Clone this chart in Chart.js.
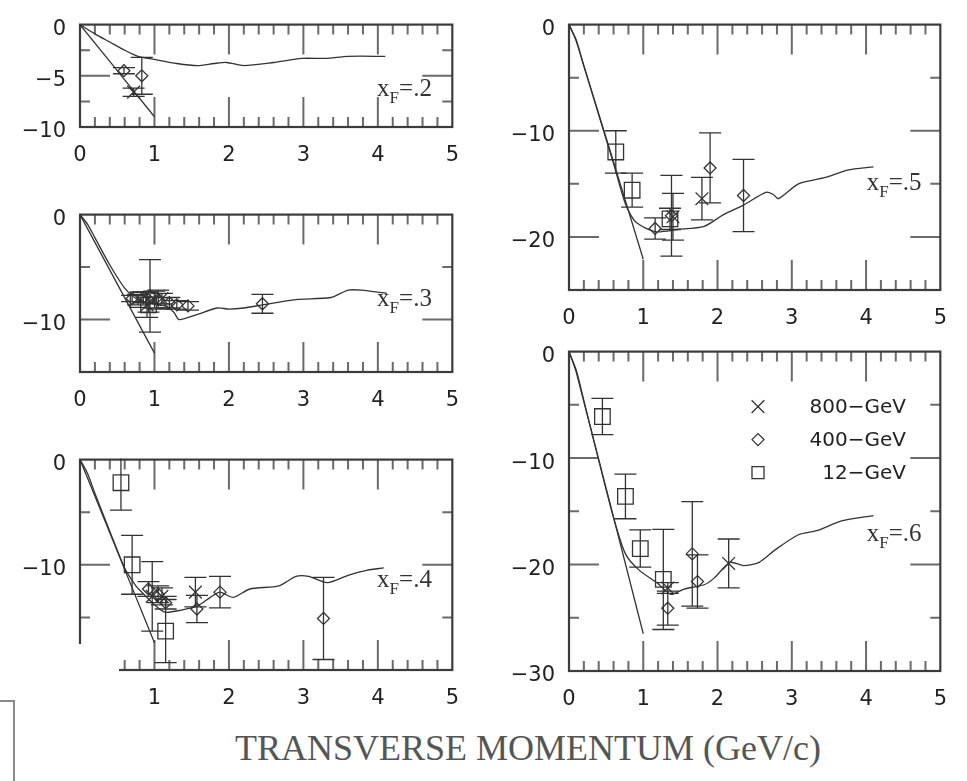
<!DOCTYPE html>
<html>
<head>
<meta charset="utf-8">
<script src="https://cdn.jsdelivr.net/npm/chart.js@4.4.1/dist/chart.umd.min.js"></script>
<style>
  html, body { margin: 0; padding: 0; background: #fff; width: 967px; height: 781px; overflow: hidden; }
  #page { position: relative; width: 967px; height: 781px; }
  #page canvas { position: absolute; }
  #xtitle { position: absolute; left: 228px; width: 600px; top: 727px; text-align: center;
            font: 36px "Liberation Serif", serif; color: #555; white-space: nowrap; }
  #blank { position: absolute; left: 0; top: 644px; width: 119px; height: 80px; background: #fff; z-index: 5; }
  #scrap { position: absolute; left: -4px; top: 700px; width: 15px; height: 100px; border: 2px solid #888; z-index: 6; }
</style>
</head>
<body>
<div id="page">
  <div id="xtitle">TRANSVERSE MOMENTUM (GeV/c)</div>
  <div id="blank"></div>
  <div id="scrap"></div>
</div>
<script>
// transverse momentum ticks, shared by all panels
const ptTicks = [0, 1, 2, 3, 4, 5];

// x_F = .2
const yTicks_02 = [0, -5, -10];
const lineA_02 = [[0, 0], [1, -9.0]];
const lineB_02 = [[0, 0], [0.2, -0.9], [0.4, -1.7], [0.6, -2.5], [0.78, -3.1], [1.0, -3.4], [1.3, -3.8],
  [1.58, -4.0], [1.8, -3.8], [1.97, -3.7], [2.2, -4.0], [2.6, -3.7], [2.98, -3.3], [3.3, -3.3], [3.6, -3.1], [4.1, -3.1]];
const gev800_02 = [[0.72, -6.6, 0.4]];           // [pT, value, error]
const gev400_02 = [[0.59, -4.5, 0.3], [0.83, -5.0, 1.8]];
const gev12_02 = [];

// x_F = .3
const yTicks_03 = [0, -10];
const lineA_03 = [[0, 0], [1, -13.2]];
const lineB_03 = [[0, 0], [0.1, -0.9], [0.2, -2.2], [0.4, -4.8], [0.6, -7.0], [0.75, -8.0], [0.9, -8.4],
  [1.14, -8.7], [1.26, -9.3], [1.33, -10.0], [1.58, -9.5], [1.84, -8.9], [2.0, -9.0], [2.2, -8.9], [2.45, -8.6],
  [2.9, -8.1], [3.37, -7.9], [3.6, -7.2], [3.78, -7.2], [4.12, -7.5]];
const gev800_03 = [[0.9, -8.6, 1.2], [1.0, -8.1, 0.8], [1.1, -8.0, 0.5]];
const gev400_03 = [[0.7, -8.0, 0.3], [0.85, -7.9, 0.5], [0.94, -7.75, 3.45], [1.05, -8.1, 0.9], [1.2, -8.4, 0.5],
  [1.3, -8.6, 0.4], [1.45, -8.7, 0.4], [2.45, -8.5, 0.9]];
const gev12_03 = [[0.78, -8.1, 0.5], [0.92, -8.6, 0.7]];

// x_F = .4
const yTicks_04 = [0, -10, -20];
const lineA_04 = [[0, 0], [1, -17.4]];
const lineB_04 = [[0, 0], [0.1, -1.3], [0.2, -3.2], [0.4, -6.8], [0.6, -10.3], [0.75, -12.0], [0.83, -12.6],
  [1.0, -13.8], [1.14, -14.5], [1.36, -14.3], [1.58, -13.9], [1.75, -13.1], [1.88, -12.6], [2.06, -13.1],
  [2.28, -12.3], [2.67, -12.0], [2.9, -11.1], [3.07, -11.1], [3.32, -11.7], [3.6, -11.0], [3.86, -10.5], [4.08, -10.3]];
const gev800_04 = [[0.97, -13.0, 3.3], [1.1, -13.0, 0.8], [1.55, -12.6, 1.4]];
const gev400_04 = [[0.92, -12.3, 0.7], [1.05, -12.8, 0.8], [1.15, -13.6, 0.6], [1.57, -14.2, 1.3],
  [1.88, -12.6, 1.5], [3.27, -15.1, 3.9]];
const gev12_04 = [[0.55, -2.2, 2.6], [0.7, -10.0, 2.8], [1.15, -16.3, 3.0]];

// x_F = .5
const yTicks_05 = [0, -10, -20];
const lineA_05 = [[0, 0], [0.1, -1.6], [1, -22.1]];
const lineB_05 = [[0, 0], [0.1, -1.5], [0.2, -3.9], [0.4, -8.5], [0.6, -13.1], [0.76, -16.9], [0.9, -18.6],
  [1.16, -19.5], [1.46, -19.3], [1.82, -19.0], [2.08, -17.9], [2.35, -17.0], [2.65, -15.8], [2.75, -16.0],
  [2.82, -16.4], [3.09, -15.0], [3.45, -14.4], [3.75, -13.7], [4.1, -13.4]];
const gev800_05 = [[1.4, -18.1, 2.2], [1.79, -16.4, 2.0]];
const gev400_05 = [[1.16, -19.2, 1.0], [1.38, -18.0, 3.8], [1.9, -13.5, 3.3], [2.35, -16.1, 3.4]];
const gev12_05 = [[0.63, -12.0, 2.0], [0.85, -15.6, 1.6], [1.36, -18.3, 1.0]];

// x_F = .6
const yTicks_06 = [0, -10, -20, -30];
const lineA_06 = [[0, 0], [0.1, -2.0], [1, -26.5]];
const lineB_06 = [[0, 0], [0.1, -1.8], [0.2, -4.6], [0.4, -10.2], [0.6, -15.6], [0.76, -19.0], [0.94, -20.5],
  [1.2, -21.8], [1.37, -22.8], [1.55, -22.3], [1.82, -21.9], [1.95, -21.3], [2.17, -19.8], [2.35, -20.1],
  [2.56, -19.8], [2.78, -18.6], [3.09, -17.2], [3.35, -16.8], [3.67, -15.9], [4.1, -15.4]];
const gev800_06 = [[1.33, -22.2, 0.5], [2.15, -19.9, 2.3]];
const gev400_06 = [[1.33, -24.1, 1.6], [1.66, -19.0, 4.9], [1.73, -21.6, 2.5]];
const gev12_06 = [[0.45, -6.1, 1.7], [0.76, -13.6, 2.1], [0.96, -18.5, 1.75], [1.27, -21.4, 4.7]];

const seriesNames = ['800\u2212GeV', '400\u2212GeV', '12\u2212GeV'];

const ink = '#333';
const tickInk = '#6a6a6a';
const labelFont = { family: '"DejaVu Sans", sans-serif', size: 21 };

// inward ticks on all four sides, plus the frame
const insideTicks = {
  id: 'insideTicks',
  beforeDatasetsDraw(chart, args, opts) {
    const { ctx, chartArea: a, scales: { x, y } } = chart;
    ctx.save();
    ctx.strokeStyle = tickInk;
    ctx.lineWidth = 2;
    ctx.beginPath();
    for (let i = 1; i < 25; i++) {
      const px = x.getPixelForValue(i * 0.2);
      const len = i % 5 === 0 ? 30 : 10;
      ctx.moveTo(px, a.top); ctx.lineTo(px, a.top + len);
      ctx.moveTo(px, a.bottom); ctx.lineTo(px, a.bottom - len);
    }
    for (let v = -opts.minor; v > y.min + 1e-6; v -= opts.minor) {
      const py = y.getPixelForValue(v);
      const q = v / opts.major;
      const len = Math.abs(q - Math.round(q)) < 1e-6 ? 30 : 10;
      ctx.moveTo(a.left, py); ctx.lineTo(a.left + len, py);
      ctx.moveTo(a.right, py); ctx.lineTo(a.right - len, py);
    }
    ctx.stroke();
    ctx.strokeStyle = '#3c3c3c';
    ctx.lineWidth = 2.2;
    ctx.strokeRect(a.left, a.top, a.right - a.left, a.bottom - a.top);
    ctx.restore();
  }
};

const errorBars = {
  id: 'errorBars',
  afterDatasetsDraw(chart) {
    const { ctx, chartArea: a, scales: { x, y } } = chart;
    ctx.save();
    ctx.beginPath();
    ctx.rect(a.left, a.top - 1, a.right - a.left, a.bottom - a.top + 2);
    ctx.clip();
    ctx.strokeStyle = ink;
    ctx.lineWidth = 1.3;
    chart.data.datasets.forEach(ds => {
      if (!ds.errors) return;
      ds.data.forEach((p, i) => {
        const e = ds.errors[i];
        const px = x.getPixelForValue(p.x);
        const y1 = y.getPixelForValue(p.y + e);
        const y2 = y.getPixelForValue(p.y - e);
        ctx.beginPath();
        ctx.moveTo(px, y1); ctx.lineTo(px, y2);
        ctx.moveTo(px - 11, y1); ctx.lineTo(px + 11, y1);
        ctx.moveTo(px - 11, y2); ctx.lineTo(px + 11, y2);
        ctx.stroke();
      });
    });
    ctx.restore();
  }
};

const xfLabel = {
  id: 'xfLabel',
  afterDraw(chart, args, opts) {
    const { ctx, scales: { x, y } } = chart;
    let px = x.getPixelForValue(opts.at[0]);
    const py = y.getPixelForValue(opts.at[1]);
    ctx.save();
    ctx.fillStyle = ink;
    ctx.font = '25px "Liberation Serif"';
    ctx.fillText('x', px, py);
    px += ctx.measureText('x').width;
    ctx.font = '17px "Liberation Serif"';
    ctx.fillText('F', px, py + 7);
    px += ctx.measureText('F').width;
    ctx.font = '25px "Liberation Serif"';
    ctx.fillText('=' + opts.text, px, py);
    ctx.restore();
  }
};

const seriesLegend = {
  id: 'seriesLegend',
  afterDraw(chart, args, opts) {
    if (!opts.show) return;
    const { ctx, chartArea: a } = chart;
    ctx.save();
    chart.data.datasets.filter(ds => ds.errors).forEach((ds, i) => {
      const cy = a.top + 55 + i * 33;
      ctx.strokeStyle = ink;
      ctx.fillStyle = 'rgba(0,0,0,0)';
      ctx.lineWidth = 1.3;
      Chart.helpers.drawPoint(ctx, { pointStyle: ds.pointStyle, radius: ds.legendRadius, rotation: 0, borderWidth: 1.3 },
        a.left + 189, cy);
      ctx.fillStyle = '#222';
      ctx.font = '20px "DejaVu Sans"';
      ctx.textAlign = 'right';
      ctx.textBaseline = 'middle';
      ctx.fillText(ds.label, a.left + 337, cy + 1);
    });
    ctx.restore();
  }
};

const toPts = arr => arr.map(p => ({ x: p[0], y: p[1] }));
const curve = arr => ({ data: toPts(arr), showLine: true, pointRadius: 0, borderColor: ink,
  borderWidth: 1.3, tension: 0.25 });
const series = (arr, i, style, r, lr) => ({ label: seriesNames[i], data: toPts(arr), errors: arr.map(p => p[2]),
  showLine: false, pointStyle: style, pointRadius: r, legendRadius: lr, borderColor: ink,
  backgroundColor: 'rgba(0,0,0,0)', borderWidth: 1.3 });

const panels = [
  { L: 80, T: 18, R: 460, B: 127, yMin: -10, major: 5, minor: 2.5, yTicks: yTicks_02, a: lineA_02, b: lineB_02,
    s: [gev800_02, gev400_02, gev12_02], text: '.2', at: [3.99, -7.0] },
  { L: 80, T: 208, R: 460, B: 372, yMin: -15, major: 10, minor: 5, yTicks: yTicks_03, a: lineA_03, b: lineB_03,
    s: [gev800_03, gev400_03, gev12_03], text: '.3', at: [3.99, -8.7] },
  { L: 80, T: 453, R: 460, B: 670, yMin: -20, major: 10, minor: 5, yTicks: yTicks_04, a: lineA_04, b: lineB_04,
    s: [gev800_04, gev400_04, gev12_04], text: '.4', at: [3.99, -12.1] },
  { L: 569, T: 18, R: 948, B: 290, yMin: -25, major: 10, minor: 5, yTicks: yTicks_05, a: lineA_05, b: lineB_05,
    s: [gev800_05, gev400_05, gev12_05], text: '.5', at: [4.01, -15.6] },
  { L: 569, T: 345, R: 948, B: 671, yMin: -30, major: 10, minor: 5, yTicks: yTicks_06, a: lineA_06, b: lineB_06,
    s: [gev800_06, gev400_06, gev12_06], text: '.6', at: [4.01, -17.8], legend: true }
];

panels.forEach(p => {
  const padL = 80, padT = 20, padR = 15, padB = 50;
  const canvas = document.createElement('canvas');
  canvas.width = p.R - p.L + padL + padR;
  canvas.height = p.B - p.T + padT + padB;
  canvas.style.left = (p.L - padL) + 'px';
  canvas.style.top = (p.T - padT) + 'px';
  document.getElementById('page').appendChild(canvas);

  new Chart(canvas, {
    type: 'scatter',
    data: {
      datasets: [
        curve(p.a),
        curve(p.b),
        series(p.s[0], 0, 'crossRot', 9, 9),
        series(p.s[1], 1, 'rectRot', 6, 6),
        series(p.s[2], 2, 'rect', 11, 8.5)
      ]
    },
    options: {
      responsive: false,
      animation: false,
      events: [],
      layout: { padding: { top: padT, right: padR, left: 0, bottom: 0 } },
      plugins: {
        legend: { display: false },
        tooltip: { enabled: false },
        insideTicks: { major: p.major, minor: p.minor },
        xfLabel: { text: p.text, at: p.at },
        seriesLegend: { show: !!p.legend }
      },
      scales: {
        x: {
          type: 'linear', min: 0, max: 5,
          afterBuildTicks: s => { s.ticks = ptTicks.map(v => ({ value: v })); },
          afterFit: s => { s.height = padB; },
          grid: { display: false, drawTicks: false },
          border: { display: false },
          ticks: { color: '#222', font: labelFont, padding: 16, maxRotation: 0 }
        },
        y: {
          type: 'linear', min: p.yMin, max: 0,
          afterBuildTicks: s => { s.ticks = p.yTicks.map(v => ({ value: v })); },
          afterFit: s => { s.width = padL; },
          grid: { display: false, drawTicks: false },
          border: { display: false },
          ticks: { color: '#222', font: labelFont, padding: 14, labelOffset: 5,
                   callback: v => String(v).replace('-', '\u2212') }
        }
      }
    },
    plugins: [insideTicks, errorBars, xfLabel, seriesLegend]
  });
});
</script>
</body>
</html>
